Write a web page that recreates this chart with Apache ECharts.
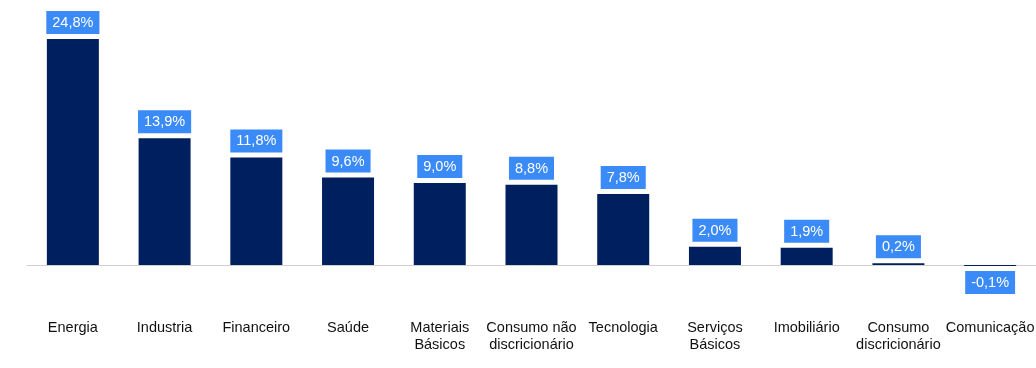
<!DOCTYPE html>
<html>
<head>
<meta charset="utf-8">
<script src="https://cdn.jsdelivr.net/npm/echarts@6/dist/echarts.min.js"></script>
<style>
  html, body { margin: 0; padding: 0; background: #ffffff; }
  #chart { width: 1036px; height: 368px; }
</style>
</head>
<body>
<div id="chart"></div>
<script>
// Sector returns (%)
const categories = [
  'Energia', 'Industria', 'Financeiro', 'Saúde', 'Materiais\nBásicos',
  'Consumo não\ndiscricionário', 'Tecnologia', 'Serviços\nBásicos',
  'Imobiliário', 'Consumo\ndiscricionário', 'Comunicação'
];
const values = [24.8, 13.9, 11.8, 9.6, 9.0, 8.8, 7.8, 2.0, 1.9, 0.2, -0.1];

const fmt = v => v.toFixed(1).replace('.', ',') + '%';

const chart = echarts.init(document.getElementById('chart'), null, { renderer: 'canvas' });

chart.setOption({
  animation: false,
  backgroundColor: '#ffffff',
  grid: { left: 27, right: 0, top: 39, bottom: 57.4, containLabel: false, outerBoundsMode: 'none' },
  xAxis: {
    type: 'category',
    data: categories,
    axisLine: { onZero: true, lineStyle: { color: '#d0d0d0', width: 1 } },
    axisTick: { show: false },
    axisLabel: {
      interval: 0,
      margin: 9,
      color: '#111111',
      fontFamily: 'Liberation Sans, Arial, sans-serif',
      fontSize: 14.5,
      lineHeight: 17
    }
  },
  yAxis: {
    type: 'value',
    min: -5,
    max: 24.8,
    show: false,
    splitLine: { show: false }
  },
  series: [{
    type: 'bar',
    barWidth: 52,
    data: values.map(v => ({
      value: v,
      label: { position: v < 0 ? 'bottom' : 'top' }
    })),
    itemStyle: { color: '#001F5E' },
    label: {
      show: true,
      distance: 5,
      formatter: p => fmt(p.value),
      color: '#ffffff',
      backgroundColor: '#3A8AF7',
      fontFamily: 'Liberation Sans, Arial, sans-serif',
      fontSize: 14.5,
      lineHeight: 16,
      padding: [4, 6, 3, 6]
    }
  }]
});
</script>
</body>
</html>
